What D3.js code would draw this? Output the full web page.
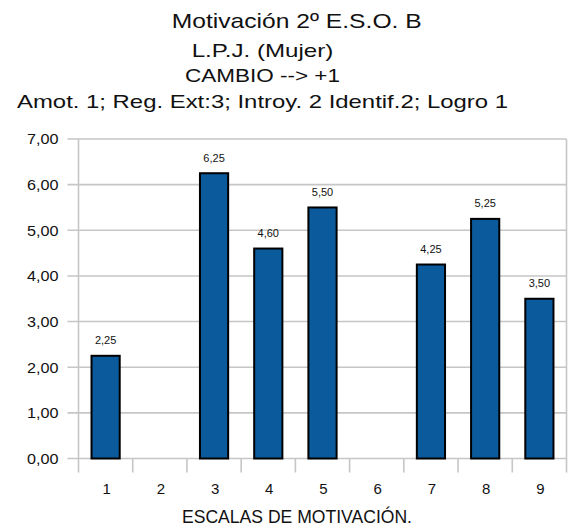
<!DOCTYPE html>
<html>
<head>
<meta charset="utf-8">
<script src="https://cdn.jsdelivr.net/npm/d3@7"></script>
<style>
  html, body { margin: 0; padding: 0; background: #fff; }
  svg { display: block; font-family: "Liberation Sans", Arial, Helvetica, sans-serif; }
</style>
</head>
<body>
<svg id="chart" width="568" height="528"></svg>
<script>
// Motivation scales and their scores
const categories = ["1", "2", "3", "4", "5", "6", "7", "8", "9"];
const values = [2.25, null, 6.25, 4.60, 5.50, null, 4.25, 5.25, 3.50];
const yTicks = [0, 1, 2, 3, 4, 5, 6, 7];
const titleMain = "Motivación 2º E.S.O. B";
const subtitles = ["L.P.J. (Mujer)", "CAMBIO --> +1", "Amot. 1; Reg. Ext:3; Introy. 2 Identif.2; Logro 1"];
const xTitle = "ESCALAS DE MOTIVACIÓN.";

const svg = d3.select("#chart");
const plotLeft = 78.5, plotRight = 566.5, plotTop = 139, plotBottom = 458.5;

const fmt = v => d3.format(".2f")(v).replace(".", ",");

const x = d3.scaleBand().domain(categories).range([plotLeft, plotRight]).paddingInner(0.48).paddingOuter(0.24);
const y = d3.scaleLinear().domain([0, 7]).range([plotBottom, plotTop]);

const grid = "#c6c6c6";

// horizontal gridlines plus short ticks left of the axis
svg.append("g").selectAll("line").data(yTicks).join("line")
  .attr("x1", plotLeft - 11).attr("x2", plotRight)
  .attr("y1", d => y(d)).attr("y2", d => y(d))
  .attr("stroke", grid).attr("stroke-width", 1.6);

// y axis line and right border
svg.append("line").attr("x1", plotLeft).attr("x2", plotLeft).attr("y1", plotTop).attr("y2", plotBottom + 14)
  .attr("stroke", grid).attr("stroke-width", 1.6);
svg.append("line").attr("x1", plotRight).attr("x2", plotRight).attr("y1", plotTop).attr("y2", plotBottom + 14)
  .attr("stroke", grid).attr("stroke-width", 1.6);

// category separators below the x axis
const step = x.step();
svg.append("g").selectAll("line").data(categories.slice(1)).join("line")
  .attr("x1", d => x(d) - (step - x.bandwidth()) / 2)
  .attr("x2", d => x(d) - (step - x.bandwidth()) / 2)
  .attr("y1", plotBottom).attr("y2", plotBottom + 14)
  .attr("stroke", grid).attr("stroke-width", 1.6);

// y tick labels
svg.append("g").selectAll("text").data(yTicks).join("text")
  .attr("x", plotLeft - 20).attr("y", d => y(d)).attr("dy", "0.36em")
  .attr("text-anchor", "end").attr("font-size", 15).attr("fill", "#111")
  .attr("textLength", 31.5).attr("lengthAdjust", "spacingAndGlyphs")
  .text(d => fmt(d));

// x tick labels
svg.append("g").selectAll("text").data(categories).join("text")
  .attr("x", d => x(d) + x.bandwidth() / 2 + 1).attr("y", plotBottom + 35)
  .attr("text-anchor", "middle").attr("font-size", 15).attr("fill", "#111")
  .text(d => d);

// bars
const data = categories.map((c, i) => ({ c, v: values[i] })).filter(d => d.v != null);
svg.append("g").selectAll("rect").data(data).join("rect")
  .attr("x", d => x(d.c)).attr("width", x.bandwidth())
  .attr("y", d => y(d.v)).attr("height", d => y(0) - y(d.v))
  .attr("fill", "#0a5a9c").attr("stroke", "#000").attr("stroke-width", 2);

// value labels
svg.append("g").selectAll("text").data(data).join("text")
  .attr("x", d => x(d.c) + x.bandwidth() / 2).attr("y", d => y(d.v) - 11.5)
  .attr("text-anchor", "middle").attr("font-size", 11).attr("fill", "#111")
  .text(d => fmt(d.v));

// titles
svg.append("text").attr("x", 296.7).attr("y", 28.3).attr("text-anchor", "middle")
  .attr("font-size", 21).attr("fill", "#111")
  .attr("textLength", 250).attr("lengthAdjust", "spacingAndGlyphs")
  .text(titleMain);
const subY = [56.7, 82, 107.5];
const subW = [141.6, 155, 491];
svg.append("g").selectAll("text").data(subtitles).join("text")
  .attr("x", 262.5).attr("y", (d, i) => subY[i]).attr("text-anchor", "middle")
  .attr("font-size", 19).attr("fill", "#111")
  .attr("textLength", (d, i) => subW[i]).attr("lengthAdjust", "spacingAndGlyphs")
  .text(d => d);

// x axis title
svg.append("text").attr("x", 297).attr("y", 523).attr("text-anchor", "middle")
  .attr("font-size", 18).attr("fill", "#111")
  .attr("textLength", 230).attr("lengthAdjust", "spacingAndGlyphs")
  .text(xTitle);
</script>
</body>
</html>
